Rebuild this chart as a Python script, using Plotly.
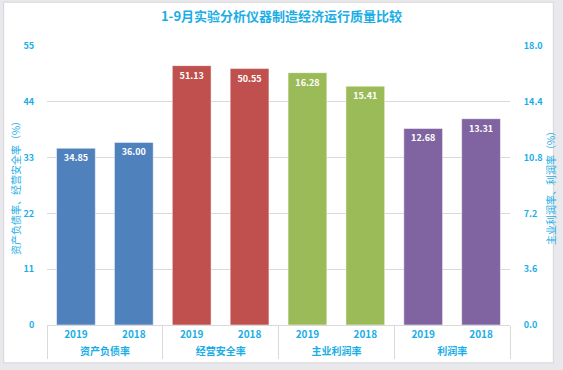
import plotly.graph_objects as go

title = "1-9月实验分析仪器制造经济运行质量比较"
groups_left = ["资产负债率", "资产负债率", "经营安全率", "经营安全率"]
years_left = ["2019", "2018", "2019", "2018"]
values_left = [34.85, 36.00, 51.13, 50.55]
colors_left = ["#4F81BD", "#4F81BD", "#C0504D", "#C0504D"]

groups_right = ["主业利润率", "主业利润率", "利润率", "利润率"]
years_right = ["2019", "2018", "2019", "2018"]
values_right = [16.28, 15.41, 12.68, 13.31]
colors_right = ["#9BBB59", "#9BBB59", "#8064A2", "#8064A2"]

left_ticks = [0, 11, 22, 33, 44, 55]
right_ticks = [0.0, 3.6, 7.2, 10.8, 14.4, 18.0]

blue = "#1AAEE6"
font = "Noto Sans CJK SC"

fig = go.Figure()
fig.add_trace(go.Bar(
    x=[groups_left, years_left], y=values_left, yaxis="y",
    marker=dict(color=colors_left, line=dict(color="rgba(255,255,255,0.5)", width=1)),
    text=[f"{v:.2f}" for v in values_left], textposition="inside",
    insidetextanchor="end", textangle=0,
    textfont=dict(color="white", size=9, family=font, weight="bold"),
    showlegend=False, hoverinfo="skip",
))
fig.add_trace(go.Bar(
    x=[groups_right, years_right], y=values_right, yaxis="y2",
    marker=dict(color=colors_right, line=dict(color="rgba(255,255,255,0.5)", width=1)),
    text=[f"{v:.2f}" for v in values_right], textposition="inside",
    insidetextanchor="end", textangle=0,
    textfont=dict(color="white", size=9, family=font, weight="bold"),
    showlegend=False, hoverinfo="skip",
))

L, R, T, B = 47, 46, 46, 44
W, H = 563, 370
pw, ph = W - L - R, H - T - B

def px(x):
    return (x - L) / pw

def py(y):
    return (H - B - y) / ph

fig.update_layout(
    width=W, height=H,
    margin=dict(l=L, r=R, t=T, b=B),
    paper_bgcolor="#E9E9ED",
    plot_bgcolor="rgba(0,0,0,0)",
    barmode="overlay",
    bargap=0.33,
    font=dict(family=font, color=blue),
    title=dict(text=title, x=0.5, xanchor="center", y=1 - 16 / H, yanchor="middle",
               font=dict(size=13, color=blue, family=font, weight="bold")),
    xaxis=dict(
        type="multicategory", showline=True, linecolor="#D9D9D9", linewidth=1,
        showdividers=True, dividercolor="#D9D9D9", dividerwidth=1,
        tickfont=dict(size=10, color=blue, family=font, weight="bold"),
        ticks="", showgrid=False,
    ),
    yaxis=dict(
        range=[0, 55], tickvals=left_ticks, ticktext=[str(v) for v in left_ticks],
        showgrid=True, gridcolor="#D9D9D9", gridwidth=1, zeroline=False,
        tickfont=dict(size=9, color=blue, family=font, weight="bold"),
        ticks="outside", ticklen=10, tickcolor="rgba(0,0,0,0)",
        title=dict(text="资产负债率、经营安全率（%）", standoff=1,
                   font=dict(size=10, color=blue, family=font)),
    ),
    yaxis2=dict(
        range=[0, 18], overlaying="y", side="right",
        tickvals=right_ticks, ticktext=[f"{v:.1f}" for v in right_ticks],
        showgrid=False, zeroline=False,
        tickfont=dict(size=9, color=blue, family=font, weight="bold"),
        ticks="outside", ticklen=11, tickcolor="rgba(0,0,0,0)",
        title=dict(text="主业利润率、利润率（%）", standoff=1,
                   font=dict(size=10, color=blue, family=font)),
    ),
    shapes=[dict(type="rect", xref="paper", yref="paper",
                 x0=px(3), x1=px(561), y0=py(364), y1=py(2),
                 fillcolor="white", line=dict(color="#D6D6D6", width=1), layer="below")],
)

fig.write_html("out.html", config={"displayModeBar": False},
               post_script="document.body.style.margin='0';document.body.style.overflow='hidden';")
